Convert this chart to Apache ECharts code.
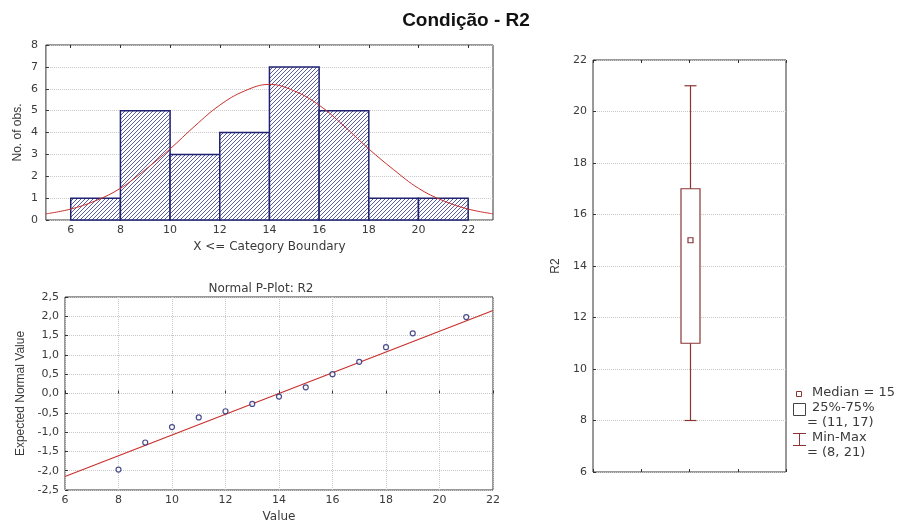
<!DOCTYPE html>
<html lang="pt">
<head>
    <meta charset="UTF-8">
    <title>Condição - R2</title>
    <script src="https://cdn.jsdelivr.net/npm/echarts@6/dist/echarts.min.js"></script>
    <style>
        html, body { margin: 0; padding: 0; background: #fff; }
        #container { width: 898px; height: 526px; }
    </style>
</head>
<body>
<div id="container"></div>

<script type="text/javascript">
    // histograma: limites das classes e contagens
    var binStart = [6, 8, 10, 12, 14, 16, 18, 20];
    var binEnd = [8, 10, 12, 14, 16, 18, 20, 22];
    var binCount = [1, 5, 3, 4, 7, 5, 1, 1];

    // curva normal ajustada
    var curveX = [5, 6, 7, 8, 9, 10, 11, 12, 13, 14, 15, 16, 17, 18, 19, 20, 21, 22, 23];
    var curveY = [0.28, 0.5, 0.88, 1.45, 2.3, 3.25, 4.3, 5.25, 5.9, 6.2, 5.9, 5.25, 4.3, 3.25, 2.3, 1.45, 0.88, 0.5, 0.28];

    // normal p-plot
    var ppX = [8, 9, 10, 11, 12, 13, 14, 15, 16, 17, 18, 19, 21];
    var ppY = [-1.97, -1.27, -0.87, -0.62, -0.46, -0.27, -0.08, 0.16, 0.50, 0.82, 1.20, 1.56, 1.98];
    var fitX = [6, 22];
    var fitY = [-2.15, 2.15];

    // box plot: min, q1, mediana, q3, max
    var boxStats = [8, 11, 15, 17, 21];

    var histXTicks = [6, 8, 10, 12, 14, 16, 18, 20, 22];

    var textColor = '#3a3a3a';
    var frameColor = '#333';
    var navy = '#1e2270';
    var red = '#c8302c';
    var maroon = '#8a3434';
    var font = 'DejaVu Sans';
    var font2 = 'Liberation Sans';

    // hachura diagonal
    var hatch = document.createElement('canvas');
    hatch.width = 4;
    hatch.height = 4;
    var hc = hatch.getContext('2d');
    hc.fillStyle = '#fff';
    hc.fillRect(0, 0, 4, 4);
    hc.strokeStyle = '#464b96';
    hc.lineWidth = 0.9;
    hc.beginPath();
    hc.moveTo(0, 4); hc.lineTo(4, 0);
    hc.moveTo(-1, 1); hc.lineTo(1, -1);
    hc.moveTo(3, 5); hc.lineTo(5, 3);
    hc.stroke();

    var binData = [];
    for (var i = 0; i < binStart.length; i++) {
        binData.push([binStart[i], binEnd[i], binCount[i]]);
    }
    var curveData = [];
    for (var i = 0; i < curveX.length; i++) {
        curveData.push([curveX[i], curveY[i]]);
    }
    var ppData = [];
    for (var i = 0; i < ppX.length; i++) {
        ppData.push([ppX[i], ppY[i]]);
    }
    var fitData = [[fitX[0], fitY[0]], [fitX[1], fitY[1]]];

    var tickLabel = {color: textColor, fontSize: 11, fontFamily: font};
    var dotted = {show: true, lineStyle: {color: '#c8c8c8', type: 'dotted', width: 1}};

    var myChart = echarts.init(document.getElementById('container'), null, {renderer: 'canvas'});

    var option = {
        backgroundColor: '#fff',
        animation: false,
        title: [{
            text: 'Condição - R2',
            left: 461,
            top: 6,
            textAlign: 'center',
            textStyle: {fontSize: 19, fontWeight: 'bold', color: '#111', fontFamily: font2}
        }, {
            text: 'Normal P-Plot: R2',
            left: 256,
            top: 278,
            textAlign: 'center',
            textStyle: {fontSize: 12, fontWeight: 'normal', color: textColor, fontFamily: font}
        }],
        grid: [
            {left: 43, top: 45, width: 450, height: 175, show: true, borderColor: frameColor, borderWidth: 1},
            {left: 65, top: 297, width: 428, height: 193, show: true, borderColor: frameColor, borderWidth: 1},
            {left: 593, top: 60, width: 193, height: 412, show: true, borderColor: frameColor, borderWidth: 1}
        ],
        xAxis: [
            {
                gridIndex: 0, type: 'value', min: 5, max: 23,
                name: 'X <= Category Boundary', nameLocation: 'middle', nameGap: 21,
                nameTextStyle: {color: textColor, fontSize: 12, fontFamily: font},
                axisLine: {show: false},
                axisTick: {inside: true, length: 3, customValues: histXTicks, lineStyle: {color: frameColor}},
                axisLabel: {customValues: histXTicks, margin: 5, color: textColor, fontSize: 11, fontFamily: font},
                splitLine: {show: false}
            },
            {
                gridIndex: 0, type: 'value', min: 5, max: 23, position: 'top',
                axisLine: {show: false},
                axisTick: {inside: true, length: 3, customValues: histXTicks, lineStyle: {color: frameColor}},
                axisLabel: {show: false}, splitLine: {show: false}
            },
            {
                gridIndex: 1, type: 'value', min: 6, max: 22, interval: 2,
                name: 'Value', nameLocation: 'middle', nameGap: 21,
                nameTextStyle: {color: textColor, fontSize: 12, fontFamily: font},
                axisLine: {show: false},
                axisTick: {inside: true, length: 3, lineStyle: {color: frameColor}},
                axisLabel: {margin: 5, color: textColor, fontSize: 11, fontFamily: font},
                splitLine: dotted
            },
            {
                gridIndex: 2, type: 'value', min: 0, max: 4, interval: 1,
                axisLine: {show: false},
                axisTick: {inside: true, length: 3, lineStyle: {color: frameColor}},
                axisLabel: {show: false}, splitLine: {show: false}
            },
            {
                gridIndex: 2, type: 'value', min: 0, max: 4, interval: 1, position: 'top',
                axisLine: {show: false},
                axisTick: {inside: true, length: 3, lineStyle: {color: frameColor}},
                axisLabel: {show: false}, splitLine: {show: false}
            }
        ],
        yAxis: [
            {
                gridIndex: 0, type: 'value', min: 0, max: 8, interval: 1,
                name: 'No. of obs.', nameLocation: 'middle', nameGap: 22,
                nameTextStyle: {color: textColor, fontSize: 12, fontFamily: font2},
                axisLine: {show: false},
                axisTick: {inside: true, length: 3, lineStyle: {color: frameColor}},
                axisLabel: tickLabel,
                splitLine: dotted
            },
            {
                gridIndex: 1, type: 'value', min: -2.5, max: 2.5, interval: 0.5,
                name: 'Expected Normal Value', nameLocation: 'middle', nameGap: 38,
                nameTextStyle: {color: textColor, fontSize: 12, fontFamily: font2},
                axisLine: {show: false},
                axisTick: {inside: true, length: 3, lineStyle: {color: frameColor}},
                axisLabel: {margin: 6, color: textColor, fontSize: 11, fontFamily: font,
                    formatter: function (v) { return v.toFixed(1).replace('.', ','); }},
                splitLine: dotted
            },
            {
                gridIndex: 2, type: 'value', min: 6, max: 22, interval: 2,
                name: 'R2', nameLocation: 'middle', nameGap: 31,
                nameTextStyle: {color: textColor, fontSize: 12, fontFamily: font2},
                axisLine: {show: false},
                axisTick: {inside: true, length: 3, lineStyle: {color: frameColor}},
                axisLabel: {margin: 6, color: textColor, fontSize: 11, fontFamily: font},
                splitLine: dotted
            }
        ],
        series: [
            {
                type: 'custom',
                xAxisIndex: 0, yAxisIndex: 0,
                data: binData,
                encode: {x: [0, 1], y: 2},
                renderItem: function (params, api) {
                    var p0 = api.coord([api.value(0), api.value(2)]);
                    var p1 = api.coord([api.value(1), 0]);
                    return {
                        type: 'rect',
                        shape: {x: p0[0], y: p0[1], width: p1[0] - p0[0], height: p1[1] - p0[1]},
                        style: {fill: {image: hatch, repeat: 'repeat'}, stroke: navy, lineWidth: 1.5}
                    };
                },
                z: 2
            },
            {
                type: 'line',
                xAxisIndex: 0, yAxisIndex: 0,
                data: curveData,
                smooth: 0.4,
                showSymbol: false,
                lineStyle: {color: red, width: 1},
                z: 3
            },
            {
                type: 'line',
                xAxisIndex: 2, yAxisIndex: 1,
                data: fitData,
                showSymbol: false,
                lineStyle: {color: red, width: 1.2},
                z: 2
            },
            {
                type: 'scatter',
                xAxisIndex: 2, yAxisIndex: 1,
                data: ppData,
                symbol: 'circle',
                symbolSize: 5,
                itemStyle: {color: '#fff', borderColor: navy, borderWidth: 1.2},
                z: 3
            },
            {
                type: 'custom',
                xAxisIndex: 3, yAxisIndex: 2,
                data: [[2].concat(boxStats)],
                encode: {x: 0, y: [1, 2, 3, 4, 5]},
                renderItem: function (params, api) {
                    var x = api.value(0);
                    var pMin = api.coord([x, api.value(1)]);
                    var pQ1 = api.coord([x, api.value(2)]);
                    var pMed = api.coord([x, api.value(3)]);
                    var pQ3 = api.coord([x, api.value(4)]);
                    var pMax = api.coord([x, api.value(5)]);
                    var cx = Math.round(pMed[0]) + 0.5;
                    var lineSt = {stroke: maroon, lineWidth: 1.2};
                    return {
                        type: 'group',
                        children: [
                            {type: 'line', shape: {x1: cx, y1: pMin[1], x2: cx, y2: pMax[1]}, style: lineSt},
                            {type: 'line', shape: {x1: cx - 6, y1: pMin[1], x2: cx + 6, y2: pMin[1]}, style: lineSt},
                            {type: 'line', shape: {x1: cx - 6, y1: pMax[1], x2: cx + 6, y2: pMax[1]}, style: lineSt},
                            {type: 'rect', shape: {x: cx - 9.5, y: pQ3[1], width: 19, height: pQ1[1] - pQ3[1]},
                                style: {fill: '#fff', stroke: maroon, lineWidth: 1.2}},
                            {type: 'rect', shape: {x: cx - 2.5, y: pMed[1] - 2.5, width: 5, height: 5},
                                style: {fill: '#fff', stroke: maroon, lineWidth: 1.2}}
                        ]
                    };
                },
                z: 3
            }
        ],
        graphic: [
            {type: 'rect', left: 796, top: 391, shape: {width: 5, height: 5}, style: {fill: '#fff', stroke: maroon, lineWidth: 1}},
            {type: 'text', left: 812, top: 386, style: {text: 'Median = ' + boxStats[2], fill: textColor, font: '13px ' + font}},
            {type: 'rect', left: 793, top: 403, shape: {width: 12, height: 12}, style: {fill: '#fff', stroke: '#444', lineWidth: 1}},
            {type: 'text', left: 812, top: 401, style: {text: '25%-75%', fill: textColor, font: '13px ' + font}},
            {type: 'text', left: 807, top: 416, style: {text: '= (' + boxStats[1] + ', ' + boxStats[3] + ')', fill: textColor, font: '13px ' + font}},
            {type: 'line', shape: {x1: 793, y1: 433.5, x2: 806, y2: 433.5}, style: {stroke: maroon, lineWidth: 1}},
            {type: 'line', shape: {x1: 799.5, y1: 433.5, x2: 799.5, y2: 445.5}, style: {stroke: maroon, lineWidth: 1}},
            {type: 'line', shape: {x1: 793, y1: 445.5, x2: 806, y2: 445.5}, style: {stroke: maroon, lineWidth: 1}},
            {type: 'text', left: 812, top: 431, style: {text: 'Min-Max', fill: textColor, font: '13px ' + font}},
            {type: 'text', left: 807, top: 446, style: {text: '= (' + boxStats[0] + ', ' + boxStats[4] + ')', fill: textColor, font: '13px ' + font}}
        ]
    };

    myChart.setOption(option);
</script>
</body>
</html>
